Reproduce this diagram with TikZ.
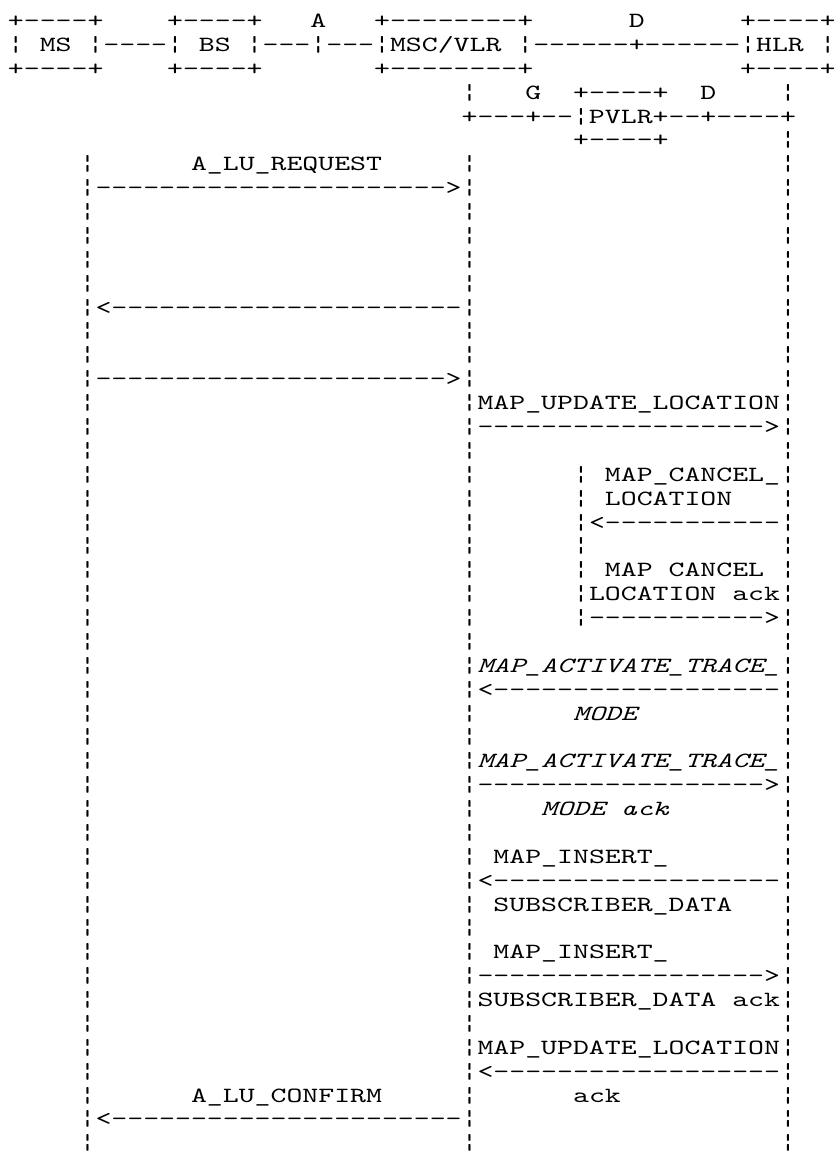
\documentclass[tikz,border=0pt]{standalone}
\usepackage{fontspec}
\newfontfamily\ascfont{lmmono10-regular.otf}[ItalicFont=lmmono10-italic.otf, FakeStretch=1.398, Ligatures=TeXOff]
\usepackage{tikz}

\begin{document}
\begin{tikzpicture}[
  x=8pt, y=12pt,
  txt/.style={anchor=base west, inner sep=0pt, outer sep=0pt, font=\ascfont\fontsize{10.9}{12}\selectfont},
  ital/.style={txt, font=\ascfont\itshape\fontsize{10.9}{12}\selectfont}
]
\useasboundingbox (0,0.154) rectangle (52.375,-48.3);

% network elements
\node[txt] (msA)  at (0.5,-1)  {+----+};
\node[txt] (bsA)  at (10.5,-1) {+----+};
\node[txt] (ifA)  at (19.5,-1) {A};
\node[txt] (mscA) at (23.5,-1) {+--------+};
\node[txt] (ifD)  at (39.5,-1) {D};
\node[txt] (hlrA) at (46.5,-1) {+----+};
\node[txt] (units) at (0.5,-2) {¦ MS ¦----¦ BS ¦---¦---¦MSC/VLR ¦------+------¦HLR ¦};
\node[txt] (msB)  at (0.5,-3)  {+----+};
\node[txt] (bsB)  at (10.5,-3) {+----+};
\node[txt] (mscB) at (23.5,-3) {+--------+};
\node[txt] (hlrB) at (46.5,-3) {+----+};
\node[txt] (ifG)  at (33,-4) {G};
\node[txt] (pvA)  at (36,-4) {+----+};
\node[txt] (ifD2) at (44,-4) {D};
\node[txt] (pvlr) at (29,-5) {+---+--¦PVLR+--+----+};
\node[txt] (pvB)  at (36,-6) {+----+};

% lifelines
\foreach \r in {7,...,48}{
  \node[txt] (ms\r) at (5,-\r) {¦};
  \node[txt] (msc\r) at (29,-\r) {¦};
}
\node[txt] (msc4) at (29,-4) {¦};
\foreach \r in {4,6,7,...,48}
  \node[txt] (hlr\r) at (49,-\r) {¦};
\foreach \r in {20,...,26}
  \node[txt] (pv\r) at (36,-\r) {¦};

% messages
\node[txt] (m1)  at (12,-7)  {A\_LU\_REQUEST};
\node[txt] (a1)  at (6,-8)   {---------------------->};
\node[txt] (a2)  at (6,-13)  {<----------------------};
\node[txt] (a3)  at (6,-16)  {---------------------->};
\node[txt] (m4)  at (30,-17) {MAP\_UPDATE\_LOCATION};
\node[txt] (a4)  at (30,-18) {------------------>};
\node[txt] (m5)  at (38,-20) {MAP\_CANCEL\_};
\node[txt] (m5b) at (38,-21) {LOCATION};
\node[txt] (a5)  at (37,-22) {<-----------};
\node[txt] (m6)  at (38,-24) {MAP CANCEL};
\node[txt] (m6b) at (37,-25) {LOCATION ack};
\node[txt] (a6)  at (37,-26) {----------->};
\node[ital] (m7)  at (30,-28) {MAP\_ACTIVATE\_TRACE\_};
\node[txt]  (a7)  at (30,-29) {<------------------};
\node[ital] (m7b) at (36,-30) {MODE};
\node[ital] (m8)  at (30,-32) {MAP\_ACTIVATE\_TRACE\_};
\node[txt]  (a8)  at (30,-33) {------------------>};
\node[ital] (m8b) at (34,-34) {MODE ack};
\node[txt] (m9)  at (31,-36) {MAP\_INSERT\_};
\node[txt] (a9)  at (30,-37) {<------------------};
\node[txt] (m9b) at (31,-38) {SUBSCRIBER\_DATA};
\node[txt] (m10)  at (31,-40) {MAP\_INSERT\_};
\node[txt] (a10)  at (30,-41) {------------------>};
\node[txt] (m10b) at (30,-42) {SUBSCRIBER\_DATA ack};
\node[txt] (m11)  at (30,-44) {MAP\_UPDATE\_LOCATION};
\node[txt] (a11)  at (30,-45) {<------------------};
\node[txt] (m11b) at (36,-46) {ack};
\node[txt] (m12)  at (12,-46) {A\_LU\_CONFIRM};
\node[txt] (a12)  at (6,-47)  {<----------------------};
\end{tikzpicture}
\end{document}
